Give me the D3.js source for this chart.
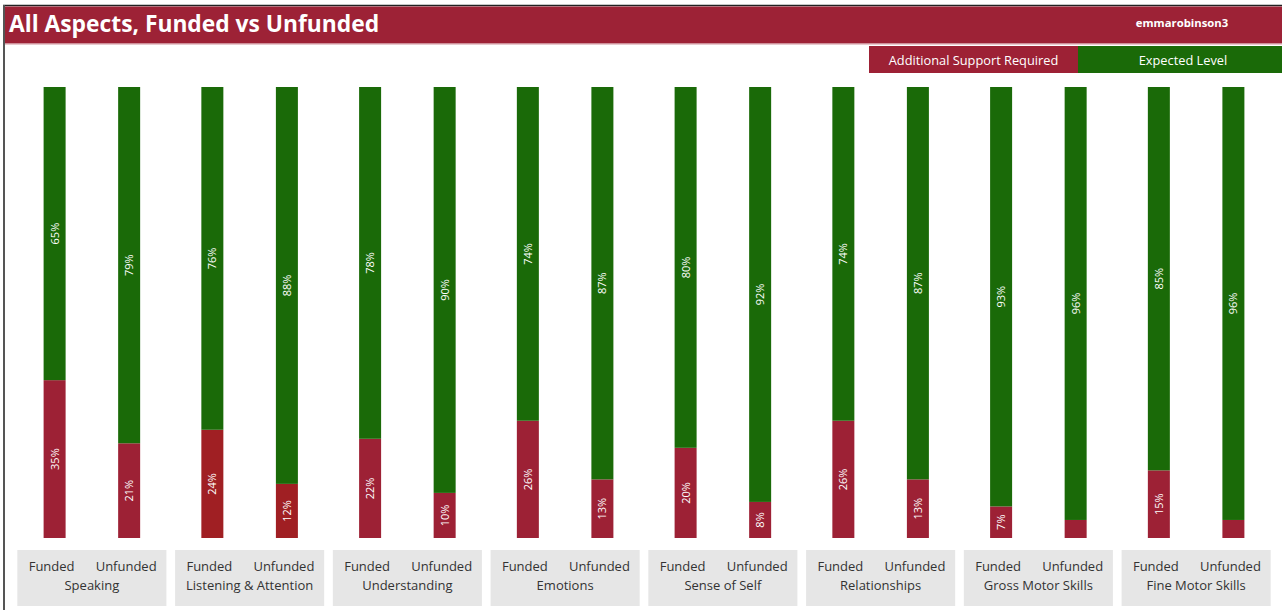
<!DOCTYPE html>
<html>
<head>
<meta charset="utf-8">
<script src="https://cdn.jsdelivr.net/npm/d3@7"></script>
<style>
  html, body { margin: 0; padding: 0; background: #fff; }
  svg { display: block; font-family: "Segoe UI", "Open Sans", "Noto Sans", sans-serif; }
</style>
</head>
<body>
<svg id="chart" width="1282" height="610"></svg>
<script>
// Aspects of development, each split into funded and unfunded children
const categories = ["Speaking", "Listening & Attention", "Understanding", "Emotions",
  "Sense of Self", "Relationships", "Gross Motor Skills", "Fine Motor Skills"];
const groups = ["Funded", "Unfunded"];

// Share of children needing additional support (%)
const supportFunded   = [35, 24, 22, 26, 20, 26, 7, 15];
const supportUnfunded = [21, 12, 10, 13, 8, 13, 4, 4];
// Share of children at the expected level (%)
const expectedFunded   = [65, 76, 78, 74, 80, 74, 93, 85];
const expectedUnfunded = [79, 88, 90, 87, 92, 87, 96, 96];

const legendLabels = ["Additional Support Required", "Expected Level"];
const titleText = "All Aspects, Funded vs Unfunded";
const userText = "emmarobinson3";

const RED = "#9d2135";
const RED_ALT = "#a01f23";
const GREEN = "#1a6a08";
const redFor = c => c === "Listening & Attention" ? RED_ALT : RED;

const W = 1282, H = 610;
const svg = d3.select("#chart");

// Frame
svg.append("rect").attr("x", 3).attr("y", 5).attr("width", W - 3).attr("height", H - 5)
  .attr("fill", "#fff");
svg.append("line").attr("x1", 3).attr("x2", W).attr("y1", 5.5).attr("y2", 5.5)
  .attr("stroke", "#222").attr("stroke-width", 1.5);
svg.append("line").attr("x1", 4).attr("x2", 4).attr("y1", 5).attr("y2", H)
  .attr("stroke", "#555").attr("stroke-width", 2);

// Title bar
svg.append("rect").attr("x", 5).attr("y", 6.5).attr("width", W - 5).attr("height", 37)
  .attr("fill", "#9d2236");
svg.append("line").attr("x1", 5).attr("x2", W).attr("y1", 44.5).attr("y2", 44.5)
  .attr("stroke", "#e8c9cd").attr("stroke-width", 1);
svg.append("text").attr("x", 9).attr("y", 32)
  .attr("fill", "#fff").attr("font-size", 22.8).attr("font-weight", 700)
  .text(titleText);
svg.append("text").attr("x", 1182).attr("y", 27).attr("text-anchor", "middle")
  .attr("fill", "#fff").attr("font-size", 11.3).attr("font-weight", 700)
  .text(userText);

// Legend
const legendX = d3.scaleBand().domain(legendLabels).range([869, 1287]).padding(0);
const legendColor = d3.scaleOrdinal().domain(legendLabels).range([RED, GREEN]);
const lg = svg.append("g").selectAll("g").data(legendLabels).join("g")
  .attr("transform", d => `translate(${legendX(d)},46)`);
lg.append("rect").attr("width", legendX.bandwidth()).attr("height", 27)
  .attr("fill", d => legendColor(d));
lg.append("text").attr("x", (d, i) => i === 0 ? legendX.bandwidth() / 2 : 105).attr("y", 19)
  .attr("text-anchor", "middle").attr("fill", "#fff").attr("font-size", 12.8)
  .text(d => d);

// Scales
const x0 = d3.scaleBand().domain(categories).range([13, 1275])
  .paddingInner(0.055).paddingOuter(0.0275);
const x1 = d3.scalePoint().domain(groups).range([0, x0.bandwidth()]).padding(0.5);
const y = d3.scaleLinear().domain([0, 100]).range([538, 87]);
const barW = 22;

// Rows: one per bar, stacked support (bottom) then expected (top)
const rows = [];
categories.forEach((c, i) => {
  rows.push({ cat: c, grp: "Funded", support: supportFunded[i], expected: expectedFunded[i] });
  rows.push({ cat: c, grp: "Unfunded", support: supportUnfunded[i], expected: expectedUnfunded[i] });
});
const stack = d3.stack().keys(["support", "expected"]);
const series = stack(rows);

const plot = svg.append("g");
series.forEach(s => {
  const key = s.key;
  const g = plot.append("g");
  g.selectAll("rect").data(s).join("rect")
    .attr("x", d => x0(d.data.cat) + x1(d.data.grp) - barW / 2)
    .attr("y", d => y(d[1]))
    .attr("width", barW)
    .attr("height", d => y(d[0]) - y(d[1]))
    .attr("fill", d => key === "support" ? redFor(d.data.cat) : GREEN);
  g.selectAll("text").data(s.filter(d => y(d[0]) - y(d[1]) > 25)).join("text")
    .attr("transform", d => {
      const cx = x0(d.data.cat) + x1(d.data.grp);
      const cy = (y(d[0]) + y(d[1])) / 2;
      return `translate(${cx + 4},${cy}) rotate(-90)`;
    })
    .attr("text-anchor", "middle")
    .attr("fill", "#fff").attr("font-size", 11)
    .text(d => `${d.data[key]}%`);
});

// Category label boxes
const boxes = svg.append("g").selectAll("g").data(categories).join("g")
  .attr("transform", d => `translate(${x0(d)},550)`);
boxes.append("rect").attr("width", x0.bandwidth()).attr("height", 56).attr("fill", "#e6e6e6");
boxes.selectAll("text.grp").data(groups).join("text").attr("class", "grp")
  .attr("x", d => x1(d) - 3).attr("y", 21).attr("text-anchor", "middle")
  .attr("fill", "#333").attr("font-size", 13).text(d => d);
boxes.append("text").attr("x", x0.bandwidth() / 2).attr("y", 40).attr("text-anchor", "middle")
  .attr("fill", "#333").attr("font-size", 13).text(d => d);
</script>
</body>
</html>
